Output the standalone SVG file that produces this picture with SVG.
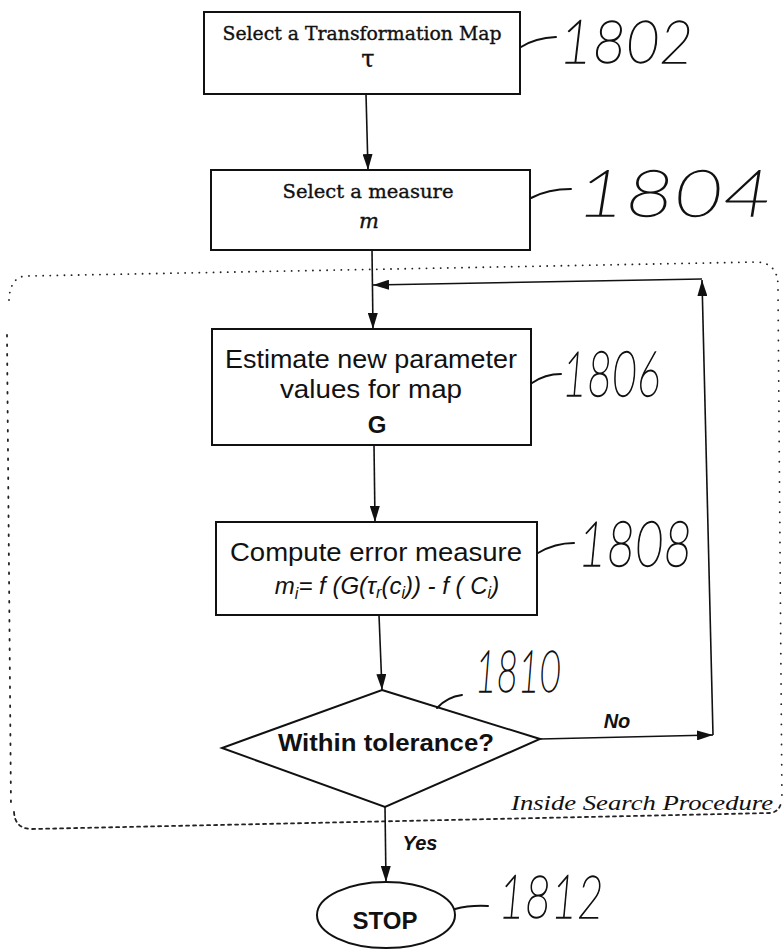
<svg xmlns="http://www.w3.org/2000/svg" width="784" height="951" viewBox="0 0 784 951">
  <style>
    .box { fill: #fff; stroke: #111; stroke-width: 2; }
    .line { fill: none; stroke: #111; stroke-width: 1.6; }
    .lead { fill: none; stroke: #111; stroke-width: 2; stroke-linecap: round; }
    .serif { font-family: "DejaVu Serif", "Liberation Serif", serif; fill: #111; stroke: #111; stroke-width: 0.35; }
    .serif-it { font-family: "Liberation Serif", "DejaVu Serif", serif; font-style: italic; fill: #111; }
    .sans { font-family: "Liberation Sans Narrow", "Liberation Sans", Arial, sans-serif; fill: #111; }
    .sansb { font-family: "Liberation Sans", Arial, sans-serif; font-weight: bold; fill: #111; }
    .hand { font-family: Lato, "Open Sans", "DejaVu Sans", sans-serif; font-weight: 100; font-style: italic; fill: #111; stroke: #111; stroke-width: 1.3; }
    .dots { fill: none; stroke: #222; stroke-width: 1.8; stroke-linecap: round; }
  </style>
  <defs>
    <marker id="arrow" viewBox="0 0 16 10" refX="16" refY="5" markerWidth="16" markerHeight="10" markerUnits="userSpaceOnUse" orient="auto">
      <path d="M0,0 L16,5 L0,10 Z" fill="#111"/>
    </marker>
  </defs>

  <rect width="784" height="951" fill="#fff"/>

  <!-- dotted boundary of the inner search loop -->
  <g id="search-region">
    <path class="dots" stroke-dasharray="0.1 7" d="M 9,300 Q 10,277 26,276 L 757,262 Q 777,263 778,284"/>
    <path class="dots" stroke-dasharray="0.1 10" d="M 778,290 L 782,805"/>
    <path class="dots" stroke-dasharray="3 4" d="M 14,812 Q 15,829 32,829 L 770,813 Q 779,812 781,803"/>
    <path class="dots" stroke-dasharray="1.5 8" d="M 7,335 L 11,808"/>
    <text class="serif-it" x="773" y="810" text-anchor="end" font-size="21" textLength="262" lengthAdjust="spacingAndGlyphs">Inside Search Procedure</text>
  </g>

  <!-- connectors -->
  <g id="connectors">
    <path class="line" d="M 366,94 L 368,170" marker-end="url(#arrow)"/>
    <path class="line" d="M 372,250 L 373,329" marker-end="url(#arrow)"/>
    <path class="line" d="M 374,445 L 375,522" marker-end="url(#arrow)"/>
    <path class="line" d="M 379,615 L 382,690" marker-end="url(#arrow)"/>
    <path class="line" d="M 385,807 L 386,882" marker-end="url(#arrow)"/>
    <!-- "No" branch back to the top of the loop -->
    <path class="line" d="M 540,739 L 713,735" marker-end="url(#arrow)"/>
    <path class="line" d="M 713,735 L 702,280" marker-end="url(#arrow)"/>
    <path class="line" d="M 702,279 L 373,285" marker-end="url(#arrow)"/>
    <text class="sansb" x="617" y="728" text-anchor="middle" font-size="20" font-style="italic">No</text>
    <text class="sansb" x="420" y="850" text-anchor="middle" font-size="20" font-style="italic">Yes</text>
  </g>

  <g id="n1802">
    <rect class="box" x="204" y="12" width="316" height="82"/>
    <text class="serif" x="362" y="40" text-anchor="middle" font-size="18" textLength="279" lengthAdjust="spacingAndGlyphs">Select a Transformation Map</text>
    <text class="serif" x="368" y="67" text-anchor="middle" font-size="24">τ</text>
    <path class="lead" d="M 521,47 Q 535,38 556,37"/>
    <text class="hand" x="626" y="63" text-anchor="middle" font-size="60" textLength="134" lengthAdjust="spacingAndGlyphs">1802</text>
  </g>

  <g id="n1804">
    <rect class="box" x="211" y="170" width="319" height="80"/>
    <text class="serif" x="368" y="198" text-anchor="middle" font-size="18" textLength="171" lengthAdjust="spacingAndGlyphs">Select a measure</text>
    <text class="serif" x="369" y="228" text-anchor="middle" font-size="21" font-style="italic">m</text>
    <path class="lead" d="M 531,198 Q 548,189 571,189"/>
    <text class="hand" x="674" y="216" text-anchor="middle" font-size="64" textLength="195" lengthAdjust="spacingAndGlyphs">1804</text>
  </g>

  <g id="n1806">
    <rect class="box" x="212" y="329" width="319" height="116"/>
    <text class="sans" x="371" y="368" text-anchor="middle" font-size="26" textLength="292" lengthAdjust="spacingAndGlyphs">Estimate new parameter</text>
    <text class="sans" x="371" y="398" text-anchor="middle" font-size="26" textLength="182" lengthAdjust="spacingAndGlyphs">values for map</text>
    <text class="sansb" x="377" y="433" text-anchor="middle" font-size="24">G</text>
    <path class="lead" d="M 532,383 Q 545,374 561,374"/>
    <text class="hand" x="611" y="396" text-anchor="middle" font-size="62" textLength="98" lengthAdjust="spacingAndGlyphs">1806</text>
  </g>

  <g id="n1808">
    <rect class="box" x="216" y="522" width="321" height="93"/>
    <text class="sans" x="376" y="561" text-anchor="middle" font-size="25" textLength="292" lengthAdjust="spacingAndGlyphs">Compute error measure</text>
    <text class="sans" x="387" y="594" text-anchor="middle" font-size="24" font-style="italic">m<tspan font-size="16" dy="5">i</tspan><tspan dy="-5">= f (G(τ</tspan><tspan font-size="16" dy="4">r</tspan><tspan dy="-4">(c</tspan><tspan font-size="16" dy="4">i</tspan><tspan dy="-4">)) - f ( C</tspan><tspan font-size="16" dy="4">i</tspan><tspan dy="-4">)</tspan></text>
    <path class="lead" d="M 538,553 Q 555,543 574,543"/>
    <text class="hand" x="635" y="566" text-anchor="middle" font-size="62" textLength="114" lengthAdjust="spacingAndGlyphs">1808</text>
  </g>

  <g id="n1810">
    <polygon class="box" points="382,690 540,739 385,807 222,748"/>
    <text class="sansb" x="386" y="751" text-anchor="middle" font-size="24" textLength="216" lengthAdjust="spacingAndGlyphs">Within tolerance?</text>
    <path class="lead" d="M 437,708 Q 447,697 462,695"/>
    <text class="hand" x="518" y="692" text-anchor="middle" font-size="58" textLength="86" lengthAdjust="spacingAndGlyphs">1810</text>
  </g>

  <g id="n1812">
    <ellipse class="box" cx="386" cy="915" rx="69" ry="33"/>
    <text class="sansb" x="385" y="929" text-anchor="middle" font-size="24">STOP</text>
    <path class="lead" d="M 455,909 Q 470,905 488,906"/>
    <text class="hand" x="551" y="918" text-anchor="middle" font-size="60" textLength="105" lengthAdjust="spacingAndGlyphs">1812</text>
  </g>
</svg>
